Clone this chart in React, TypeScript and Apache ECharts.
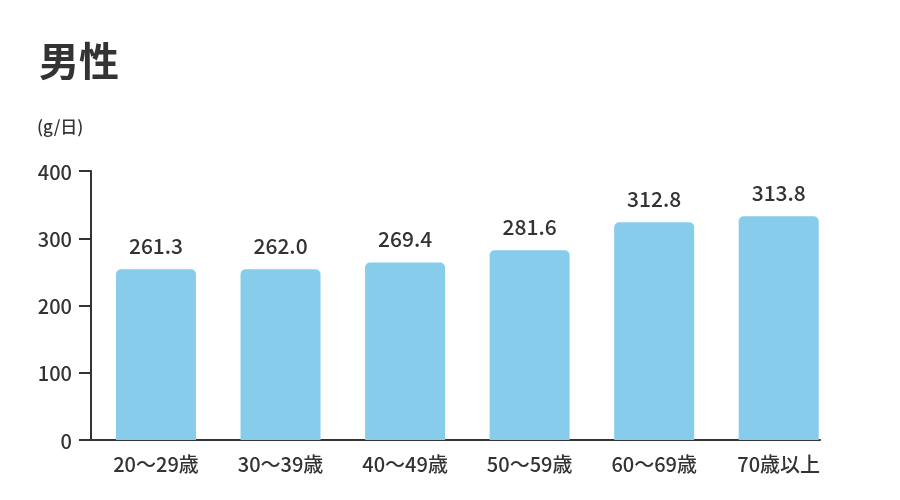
import { useEffect, useRef, type JSX } from "react";
import * as echarts from "echarts";

const categories = ["20〜29歳", "30〜39歳", "40〜49歳", "50〜59歳", "60〜69歳", "70歳以上"];
// heights of the drawn bars
const barValues = [253.8, 253.8, 264, 282, 323.7, 332.6];
// value labels printed above the bars
const valueLabels = ["261.3", "262.0", "269.4", "281.6", "312.8", "313.8"];
const yTicks = { min: 0, max: 400, interval: 100 };

const FONT = '"Noto Sans CJK JP", "Noto Sans", sans-serif';
const TEXT = "#333333";

function App(): JSX.Element {
  const chartRef = useRef<HTMLDivElement>(null);

  useEffect(() => {
    if (!chartRef.current) return;
    const chart = echarts.init(chartRef.current, null, { renderer: "svg" });

    chart.setOption({
      animation: false,
      textStyle: { fontFamily: FONT, color: TEXT },
      title: [
        {
          text: "男性",
          left: 39,
          top: 39,
          padding: 0,
          textStyle: { fontSize: 40, fontWeight: "bold", color: TEXT, fontFamily: FONT },
        },
        {
          text: "(g/日)",
          left: 37,
          top: 117,
          padding: 0,
          textStyle: { fontSize: 17, fontWeight: 500, color: TEXT, fontFamily: FONT },
        },
      ],
      grid: [
        // bars
        { left: 93.7, right: 59, top: 171, bottom: 60 },
        // x-axis baseline only
        { left: 91, right: 80, top: 171, bottom: 60 },
      ],
      xAxis: [
        {
          type: "category",
          gridIndex: 0,
          data: categories,
          axisLine: { show: false },
          axisTick: { show: false },
          axisLabel: { fontSize: 20, fontWeight: 500, color: TEXT, margin: 13, fontFamily: FONT },
        },
        {
          type: "value",
          gridIndex: 1,
          min: 0,
          max: 1,
          axisLine: { show: true, onZero: false, lineStyle: { color: TEXT, width: 2 } },
          axisTick: { show: false },
          axisLabel: { show: false },
          splitLine: { show: false },
        },
      ],
      yAxis: [
        {
          type: "value",
          gridIndex: 0,
          min: yTicks.min,
          max: yTicks.max,
          interval: yTicks.interval,
          offset: 2.7,
          axisLine: { show: true, lineStyle: { color: TEXT, width: 2 } },
          axisTick: { show: true, length: 12, lineStyle: { color: TEXT, width: 2 } },
          axisLabel: { fontSize: 20, fontWeight: 500, color: TEXT, margin: 19, fontFamily: FONT },
          splitLine: { show: false },
        },
        {
          type: "value",
          gridIndex: 1,
          min: 0,
          max: 1,
          show: false,
        },
      ],
      series: [
        {
          type: "bar",
          xAxisIndex: 0,
          yAxisIndex: 0,
          data: barValues,
          barWidth: 80,
          itemStyle: { color: "#88CCEC", borderRadius: [5, 5, 0, 0] },
          label: {
            show: true,
            position: "top",
            distance: 14,
            fontSize: 21,
            fontWeight: 500,
            color: TEXT,
            fontFamily: FONT,
            formatter: (p: { dataIndex: number }) => valueLabels[p.dataIndex],
          },
        },
      ],
    });

    return () => {
      chart.dispose();
    };
  }, []);

  return (
    <div
      ref={chartRef}
      style={{ position: "fixed", left: 0, top: 0, width: "900px", height: "500px" }}
    />
  );
}

export default App;
